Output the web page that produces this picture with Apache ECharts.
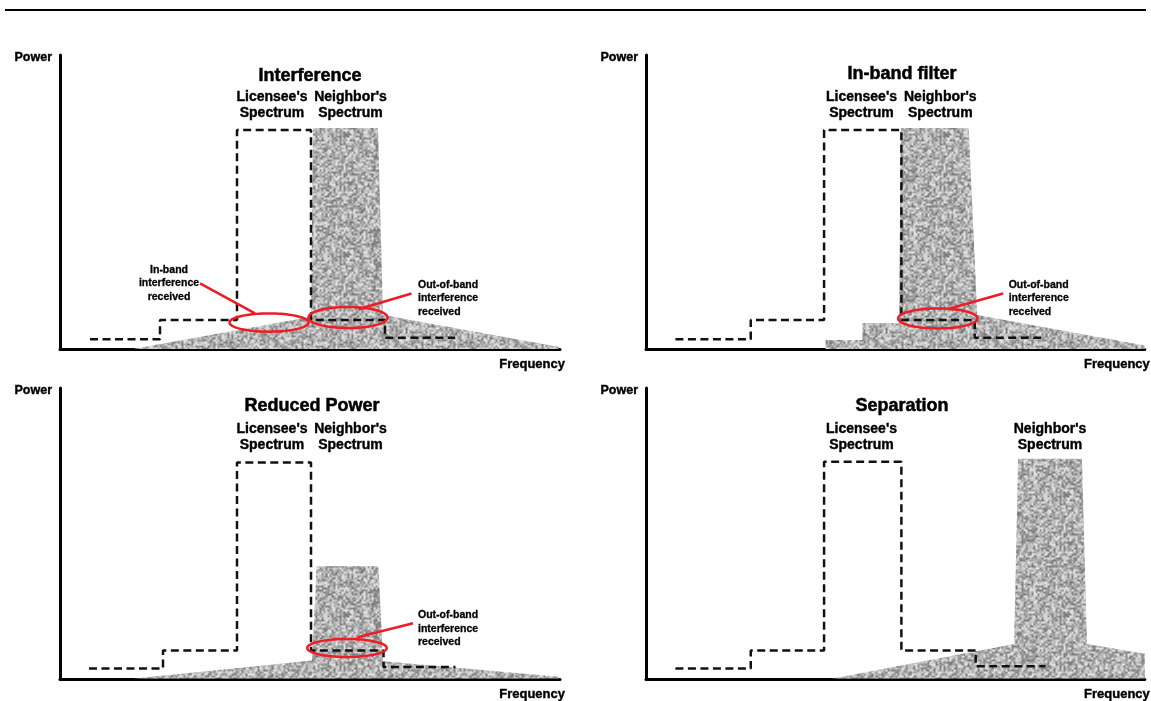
<!DOCTYPE html>
<html><head><meta charset="utf-8">
<script src="https://cdn.jsdelivr.net/npm/echarts@6/dist/echarts.min.js"></script>
<style>html,body{margin:0;padding:0;background:#fff}#chart{width:1151px;height:701px}</style>
</head><body><div id="chart"></div>
<script>
// ---------- DATA (frequency 0-100, power 0-100) ----------
const panelTitles = ['Interference', 'In-band filter', 'Reduced Power', 'Separation'];
const axisNameX = 'Frequency';
const axisNameY = 'Power';

// Licensee's allowed emission mask (dashed)
const licensee1 = [[6,3.3],[20,3.3],[20,9.9],[35.4,9.9],[35.4,74.5],[50.2,74.5],[50.2,9.9],[65,9.9],[65,3.8],[79,3.8]];
const licensee2 = [[5.9,3.3],[21,3.3],[21,9.9],[35.7,9.9],[35.7,74.5],[51.2,74.5],[51.2,9.9],[65.9,9.9],[65.9,3.8],[80.1,3.8]];
const licensee3 = [[5.8,3.5],[20.6,3.5],[20.6,9.75],[35.4,9.75],[35.4,74.4],[50.2,74.4],[50.2,9.75],[64.7,9.75],[64.7,4.1],[79.1,4.1]];
const licensee4 = [[5.9,3.5],[21,3.5],[21,9.75],[35.7,9.75],[35.7,74.6],[51.2,74.6],[51.2,9.75],[66.1,9.75],[66.1,4.3],[80.1,4.3]];

// Neighbor's emission (textured area)
const neighbor1 = [[14.6,0],[50.2,11],[50.6,75.2],[63.6,75.2],[64.6,11.6],[99.8,0.7]];
const neighbor2 = [[36,0],[36,3.1],[43.4,3.1],[43.4,8.8],[50.7,8.8],[51.1,75.2],[64.7,75.2],[66.4,11.6],[100,1.2]];
const neighbor3 = [[14.6,0],[50.4,6.3],[51.3,38.7],[63.7,38.7],[64.6,6],[99.8,0.7]];
const neighbor4 = [[37.2,0],[73.8,12],[74.6,75.7],[87.4,75.7],[88.4,12],[100,8.6]];

// Red ellipses: [cx, cy, width/2, height/2]
const ellipses1 = [[41.8,9.0,7.9,3.1],[57.6,10.7,7.9,3.6]];
const ellipses2 = [[58.5,10.4,7.95,3.4]];
const ellipses3 = [[57.4,10.6,7.95,3.1]];
const ellipses4 = [];

// Red pointer lines
const pointers1 = [[[28,22.3],[39,12.1]], [[70.3,18.9],[59.7,13.5]]];
const pointers2 = [[[71.6,18.9],[60.9,13.8]]];
const pointers3 = [[[70.6,19.1],[59.5,14.3]]];
const pointers4 = [];

// Spectrum labels [x, y, text]
const specLabels1 = [[42.4,83,"Licensee's\nSpectrum"],[58.1,83,"Neighbor's\nSpectrum"]];
const specLabels2 = [[43.2,83,"Licensee's\nSpectrum"],[59,83,"Neighbor's\nSpectrum"]];
const specLabels3 = [[42.4,83.1,"Licensee's\nSpectrum"],[58.1,83.1,"Neighbor's\nSpectrum"]];
const specLabels4 = [[43.2,83.1,"Licensee's\nSpectrum"],[81,83.1,"Neighbor's\nSpectrum"]];

// Annotations [x, y, text, align]
const notes1 = [[21.8,22.3,'In-band\ninterference\nreceived','center'],[71.6,17.2,'Out-of-band\ninterference\nreceived','left']];
const notes2 = [[72.7,17.3,'Out-of-band\ninterference\nreceived','left']];
const notes3 = [[71.6,17.1,'Out-of-band\ninterference\nreceived','left']];
const notes4 = [];

// ---------- STYLE / LAYOUT ----------
const FONT = '"Liberation Sans", Arial, sans-serif';
const RED = '#ee1c25';

// granite-like texture for the neighbor's emission (deterministic hash, styling only)
function hash(x, y) {
  let n = Math.imul(x, 374761393) + Math.imul(y, 668265263);
  n = Math.imul(n ^ (n >>> 13), 1274126177);
  n = n ^ (n >>> 16);
  return ((n >>> 0) % 10000) / 10000;
}
function makeTexture() {
  const S = 120, C = 2, c = document.createElement('canvas');
  c.width = S; c.height = S;
  const ctx = c.getContext('2d');
  const img = ctx.createImageData(S, S);
  const N = S / C; // tileable
  const cell = (i, j) => hash(((i % N) + N) % N, ((j % N) + N) % N);
  for (let y = 0; y < S; y++) for (let x = 0; x < S; x++) {
    const fx = x / C, fy = y / C, i = Math.floor(fx), j = Math.floor(fy);
    const tx = fx - i, ty = fy - j;
    const sx = tx * tx * (3 - 2 * tx), sy = ty * ty * (3 - 2 * ty);
    const a = cell(i, j), b = cell(i + 1, j), d = cell(i, j + 1), e = cell(i + 1, j + 1);
    const n = (a * (1 - sx) + b * sx) * (1 - sy) + (d * (1 - sx) + e * sx) * sy;
    const f = hash(x + 1000, y + 2000);
    let v = 118 + n * 116 + (f - 0.5) * 20;
    v = Math.max(95, Math.min(228, v));
    const k = (y * S + x) * 4;
    img.data[k] = img.data[k+1] = img.data[k+2] = v; img.data[k+3] = 255;
  }
  ctx.putImageData(img, 0, 0);
  return c;
}
const texture = { image: makeTexture(), repeat: 'repeat' };

const grids = [
  { left: 60, top: 55, width: 500, height: 294 },
  { left: 646, top: 55, width: 500, height: 294 },
  { left: 60, top: 388, width: 500, height: 294 },
  { left: 646, top: 388, width: 500, height: 294 }
];
const titlePos = [[310, 76], [902, 74], [312, 406], [902, 406]];

const panels = [
  { lic: licensee1, nb: neighbor1, el: ellipses1, pt: pointers1, sl: specLabels1, nt: notes1 },
  { lic: licensee2, nb: neighbor2, el: ellipses2, pt: pointers2, sl: specLabels2, nt: notes2 },
  { lic: licensee3, nb: neighbor3, el: ellipses3, pt: pointers3, sl: specLabels3, nt: notes3 },
  { lic: licensee4, nb: neighbor4, el: ellipses4, pt: pointers4, sl: specLabels4, nt: notes4 }
];

function textSeries(items, gi, size, lh, bw) {
  return {
    type: 'custom', xAxisIndex: gi, yAxisIndex: gi, silent: true, z: 6,
    data: items.map(d => [d[0], d[1]]),
    renderItem(params, api) {
      const d = items[params.dataIndex];
      const c = api.coord([api.value(0), api.value(1)]);
      return { type: 'text', x: c[0], y: c[1],
        style: { text: d[2], fill: '#000', fontSize: size, fontWeight: 'bold', fontFamily: FONT,
                 align: d[3] || 'center', verticalAlign: 'middle', lineHeight: lh,
                 stroke: '#000', lineWidth: bw } };
    }
  };
}

const xAxes = [], yAxes = [], series = [], titles = [];
grids.forEach((g, gi) => {
  xAxes.push({
    gridIndex: gi, type: 'value', min: 0, max: 100,
    axisLine: { show: true, onZero: false, lineStyle: { color: '#000', width: 3 } },
    axisTick: { show: false }, axisLabel: { show: false }, splitLine: { show: false },
    name: axisNameX, nameLocation: 'end', nameGap: 5,
    nameTextStyle: { color: '#000', fontSize: 13, fontWeight: 'bold', fontFamily: FONT,
                     align: 'right', verticalAlign: 'top', padding: [9, 0, 0, 0],
                     textBorderColor: '#000', textBorderWidth: 0.4 }
  });
  yAxes.push({
    gridIndex: gi, type: 'value', min: 0, max: 100,
    axisLine: { show: true, onZero: false, lineStyle: { color: '#000', width: 3 } },
    axisTick: { show: false }, axisLabel: { show: false }, splitLine: { show: false },
    name: axisNameY, nameLocation: 'end', nameGap: -3,
    nameTextStyle: { color: '#000', fontSize: 12.5, fontWeight: 'bold', fontFamily: FONT,
                     align: 'right', verticalAlign: 'middle', padding: [0, 8, 0, 0],
                     textBorderColor: '#000', textBorderWidth: 0.4 }
  });
  titles.push({
    text: panelTitles[gi], left: titlePos[gi][0], top: titlePos[gi][1], padding: 0,
    textAlign: 'center', textVerticalAlign: 'middle',
    textStyle: { color: '#000', fontSize: 18, fontWeight: 'bold', fontFamily: FONT,
                 textBorderColor: '#000', textBorderWidth: 0.5 }
  });
  const p = panels[gi];
  series.push({
    type: 'line', xAxisIndex: gi, yAxisIndex: gi, data: p.nb, showSymbol: false, silent: true, z: 1,
    lineStyle: { width: 0, opacity: 0 }, areaStyle: { color: texture, opacity: 1 }
  });
  series.push({
    type: 'line', xAxisIndex: gi, yAxisIndex: gi, data: p.lic, showSymbol: false, silent: true, z: 3,
    lineStyle: { color: '#111', width: 2.5, type: [8, 4.5] }
  });
  if (p.el.length) series.push({
    type: 'custom', xAxisIndex: gi, yAxisIndex: gi, data: p.el, silent: true, z: 5,
    renderItem(params, api) {
      const c = api.coord([api.value(0), api.value(1)]);
      const s = api.size([api.value(2) * 2, api.value(3) * 2], [api.value(0), api.value(1)]);
      const rx = s[0] / 2, ry = s[1] / 2, pts = [];
      for (let k = 0; k < 90; k++) {
        const a = k / 90 * Math.PI * 2;
        pts.push([c[0] + rx * Math.cos(a), c[1] + ry * Math.sin(a)]);
      }
      return { type: 'polygon', shape: { points: pts }, style: { fill: 'none', stroke: RED, lineWidth: 2.5 } };
    }
  });
  p.pt.forEach(seg => series.push({
    type: 'line', xAxisIndex: gi, yAxisIndex: gi, data: seg, showSymbol: false, silent: true, z: 5,
    lineStyle: { color: RED, width: 2.5 }
  }));
  series.push(textSeries(p.sl, gi, 14, 16.5, 0.4));
  if (p.nt.length) series.push(textSeries(p.nt, gi, 10.5, 13.5, 0.3));
});

const chart = echarts.init(document.getElementById('chart'), null, { renderer: 'canvas' });
chart.setOption({
  animation: false,
  backgroundColor: '#fff',
  title: titles,
  grid: grids,
  xAxis: xAxes,
  yAxis: yAxes,
  series: series,
  graphic: [{ type: 'line', shape: { x1: 5, y1: 10, x2: 1146, y2: 10 }, style: { stroke: '#000', lineWidth: 2 } }]
});
</script></body></html>
